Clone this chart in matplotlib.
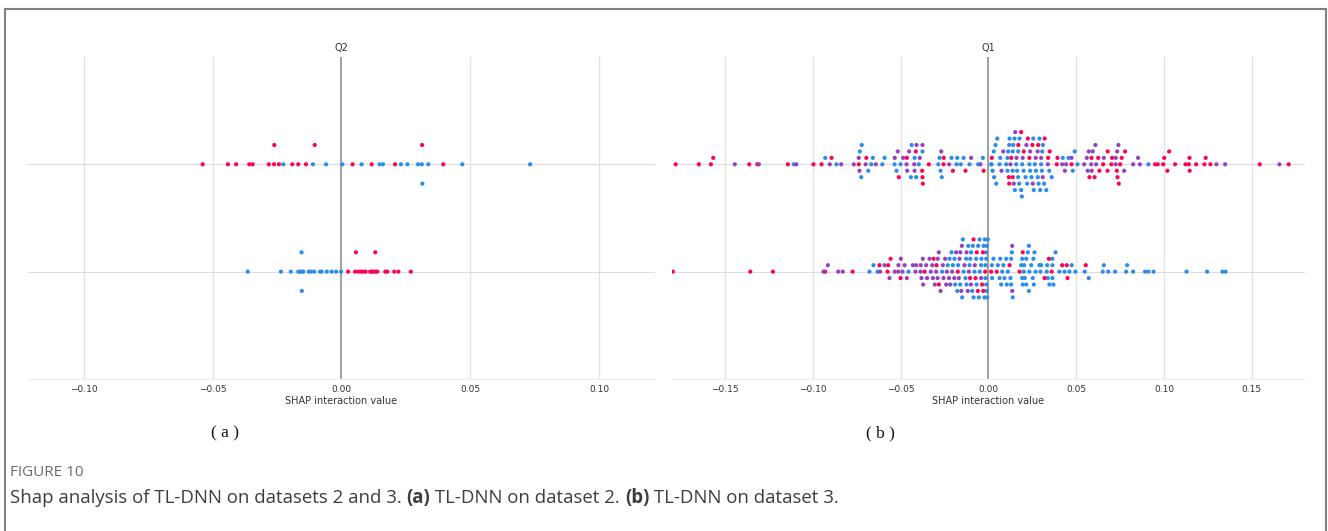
import numpy as np
import matplotlib.pyplot as plt
from matplotlib.lines import Line2D

# ---- data: SHAP interaction values ----
# panel (a): feature Q2, upper row and lower row
q2_top_red = [-0.0539, -0.0441, -0.0409, -0.0358, -0.0345, -0.0282, -0.0262, -0.0261,
              -0.0243, -0.0191, -0.0168, -0.0138, -0.0104, 0.0043, 0.0117, 0.0208,
              0.0313, 0.0395]
q2_top_blue = [-0.0226, -0.0111, -0.0060, 0.0003, 0.0078, 0.0148, 0.0161, 0.0231,
               0.0256, 0.0297, 0.0312, 0.0314, 0.0337, 0.0469, 0.0732]
q2_low_red = [0.0026, 0.0053, 0.0056, 0.0065, 0.0076, 0.0085, 0.0094, 0.0111, 0.0117,
              0.0123, 0.0131, 0.0131, 0.0139, 0.0170, 0.0178, 0.0205, 0.0221, 0.0269]
q2_low_blue = [-0.0364, -0.0235, -0.0197, -0.0168, -0.0161, -0.0155, -0.0155, -0.0154,
               -0.0148, -0.0127, -0.0118, -0.0106, -0.0083, -0.0077, -0.0057, -0.0038,
               -0.0021, -0.0002]

# panel (b): feature Q1
q1_top_red = [-0.1782, -0.1650, -0.1581, -0.1568, -0.1363, -0.1317, -0.1143, -0.0997,
              -0.0951, -0.0894, -0.0739, -0.0696, -0.0511, -0.0465, -0.0414, -0.0376,
              -0.0378, -0.0374, -0.0340, -0.0256, -0.0255, -0.0203, -0.0131, -0.0028,
              0.0019, 0.0116, 0.0118, 0.0130, 0.0138, 0.0170, 0.0186, 0.0201, 0.0224,
              0.0233, 0.0250, 0.0283, 0.0320, 0.0340, 0.0349, 0.0389, 0.0393, 0.0473,
              0.0575, 0.0587, 0.0604, 0.0625, 0.0632, 0.0653, 0.0679, 0.0678, 0.0704,
              0.0700, 0.0731, 0.0742, 0.0735, 0.0750, 0.0759, 0.0778, 0.0949, 0.0964,
              0.0995, 0.1001, 0.1019, 0.1029, 0.1063, 0.1122, 0.1141, 0.1145, 0.1146,
              0.1183, 0.1230, 0.1237, 0.1264, 0.1545, 0.1710]
q1_top_blue = [-0.1109, -0.0930, -0.0866, -0.0733, -0.0725, -0.0722, -0.0685, -0.0668,
               -0.0659, -0.0605, -0.0592, -0.0535, -0.0524, -0.0501, -0.0442, -0.0438,
               -0.0421, -0.0412, -0.0397, -0.0376, -0.0286, -0.0279, -0.0266, -0.0273,
               -0.0211, -0.0182, -0.0178, -0.0158, -0.0142, -0.0108, -0.0059, -0.0032,
               0.0017, 0.0030, 0.0032, 0.0015, 0.0040, 0.0023, 0.0044, 0.0050, 0.0063,
               0.0067, 0.0101, 0.0108, 0.0108, 0.0118, 0.0112, 0.0120, 0.0138, 0.0148,
               0.0150, 0.0158, 0.0169, 0.0141, 0.0137, 0.0169, 0.0163, 0.0175, 0.0177,
               0.0186, 0.0190, 0.0192, 0.0200, 0.0211, 0.0220, 0.0233, 0.0237, 0.0245,
               0.0255, 0.0258, 0.0264, 0.0270, 0.0281, 0.0285, 0.0290, 0.0294, 0.0300,
               0.0304, 0.0306, 0.0310, 0.0317, 0.0329, 0.0346, 0.0360, 0.0423, 0.0456,
               0.0480, 0.0491, 0.0507, 0.0911]
q1_top_purple = [-0.1445, -0.1308, -0.1095, -0.0904, -0.0839, -0.0767, -0.0735, -0.0739,
                 -0.0700, -0.0642, -0.0534, -0.0517, -0.0486, -0.0467, -0.0463, -0.0452,
                 -0.0423, -0.0421, -0.0410, -0.0391, -0.0376, -0.0269, -0.0224, -0.0099,
                 -0.0046, 0.0074, 0.0084, 0.0125, 0.0144, 0.0152, 0.0160, 0.0195, 0.0216,
                 0.0237, 0.0252, 0.0269, 0.0280, 0.0300, 0.0309, 0.0338, 0.0420, 0.0435,
                 0.0442, 0.0473, 0.0545, 0.0565, 0.0571, 0.0613, 0.0594, 0.0560, 0.0585,
                 0.0588, 0.0609, 0.0657, 0.0725, 0.0725, 0.0733, 0.0740, 0.0773, 0.0824,
                 0.0852, 0.0862, 0.1298, 0.1348, 0.1657]

q1_low_red = [-0.1798, -0.1357, -0.1228, -0.0930, -0.0774, -0.0621, -0.0575, -0.0571,
              -0.0558, -0.0501, -0.0364, -0.0313, -0.0296, -0.0283, -0.0175, -0.0105,
              -0.0085, -0.0074, -0.0067, -0.0061, -0.0036, -0.0032, -0.0030, -0.0019,
              0.0015, 0.0047, 0.0120, 0.0177, 0.0195, 0.0319, 0.0344, 0.0360, 0.0420,
              0.0446, 0.0450, 0.0554]
q1_low_blue = [-0.0678, -0.0655, -0.0632, -0.0456, -0.0264, -0.0232, -0.0222, -0.0211,
               -0.0203, -0.0194, -0.0190, -0.0178, -0.0173, -0.0161, -0.0150, -0.0146,
               -0.0142, -0.0131, -0.0127, -0.0125, -0.0115, -0.0108, -0.0104, -0.0099,
               -0.0093, -0.0089, -0.0085, -0.0080, -0.0070, -0.0068, -0.0059, -0.0055,
               -0.0051, -0.0050, -0.0042, -0.0040, -0.0028, -0.0023, -0.0021, -0.0017,
               -0.0017, -0.0013, -0.0013, -0.0013, -0.0010, -0.0010, -0.0007, -0.0004,
               0.0019, 0.0021, 0.0028, 0.0053, 0.0063, 0.0067, 0.0072, 0.0078, 0.0085,
               0.0091, 0.0101, 0.0104, 0.0110, 0.0125, 0.0129, 0.0129, 0.0133, 0.0138,
               0.0186, 0.0192, 0.0192, 0.0195, 0.0201, 0.0203, 0.0207, 0.0215, 0.0215,
               0.0224, 0.0230, 0.0230, 0.0233, 0.0243, 0.0252, 0.0256, 0.0258, 0.0262,
               0.0268, 0.0290, 0.0296, 0.0300, 0.0332, 0.0334, 0.0338, 0.0347, 0.0364,
               0.0364, 0.0364, 0.0370, 0.0382, 0.0404, 0.0433, 0.0461, 0.0474, 0.0495,
               0.0548, 0.0571, 0.0651, 0.0657, 0.0682, 0.0721, 0.0784, 0.0790, 0.0824,
               0.0892, 0.0911, 0.0940, 0.1128, 0.1245, 0.1333, 0.1350]
q1_low_purple = [-0.0940, -0.0915, -0.0856, -0.0830, -0.0617, -0.0592, -0.0564, -0.0534,
                 -0.0514, -0.0513, -0.0499, -0.0490, -0.0478, -0.0465, -0.0431, -0.0416,
                 -0.0412, -0.0387, -0.0386, -0.0382, -0.0374, -0.0372, -0.0355, -0.0350,
                 -0.0336, -0.0329, -0.0320, -0.0317, -0.0306, -0.0298, -0.0290, -0.0289,
                 -0.0283, -0.0273, -0.0260, -0.0256, -0.0247, -0.0241, -0.0237, -0.0225,
                 -0.0218, -0.0207, -0.0195, -0.0184, -0.0169, -0.0165, -0.0160, -0.0155,
                 -0.0152, -0.0137, -0.0125, -0.0118, -0.0112, -0.0100, -0.0078, -0.0042,
                 0.0135, 0.0135]

RED = '#ff0052'
BLUE = '#2a8cee'
PURPLE = '#9440c0'


def swarm_offsets(x, row_height=0.4, nbins=100):
    """shap-style beeswarm: stack points that fall in the same x bin"""
    quant = np.round(nbins * (x - x.min()) / (x.max() - x.min() + 1e-8))
    inds = np.lexsort((x, quant))
    ys = np.zeros(len(x))
    layer, last = 0, -1
    for i in inds:
        if quant[i] != last:
            layer = 0
        ys[i] = np.ceil(layer / 2) * ((layer % 2) * 2 - 1)
        layer += 1
        last = quant[i]
    ys *= 0.9 * (row_height / np.max(ys + 1))
    return ys


def draw_row(ax, pos, groups):
    xs = np.concatenate([np.asarray(v, float) for v, _ in groups])
    cs = sum([[c] * len(v) for v, c in groups], [])
    ys = swarm_offsets(xs)
    ax.axhline(pos, color='#dddddd', lw=0.8, zorder=-1)
    ax.scatter(xs, pos + ys, s=9, c=cs, linewidths=0, zorder=3)


def style_panel(ax, title, lim, ticks):
    ax.set_xlim(-lim, lim)
    ax.set_ylim(-1, 2)
    ax.set_xticks(ticks)
    ax.set_yticks([])
    for t in ticks:
        if abs(t) > 1e-9:
            ax.axvline(t, color='#e3e3e3', lw=1.0, zorder=-2)
    ax.axvline(0, color='#999999', lw=1.3, zorder=-1)
    for s in ['top', 'right', 'left']:
        ax.spines[s].set_visible(False)
    ax.spines['bottom'].set_color('#eeeeee')
    ax.tick_params(axis='x', length=0, pad=4, labelsize=6.5, labelcolor='#333333')
    ax.set_xlabel('SHAP interaction value', fontsize=7, color='#333333', labelpad=2)
    ax.set_title(title, fontsize=7, color='#333333', pad=4)


fig = plt.figure(figsize=(13.28, 5.31), dpi=100)

ax_a = fig.add_axes([0.0211, 0.2863, 0.4721, 0.6064])
draw_row(ax_a, 1, [(q2_top_blue, BLUE), (q2_top_red, RED)])
draw_row(ax_a, 0, [(q2_low_blue, BLUE), (q2_low_red, RED)])
style_panel(ax_a, 'Q2', 0.1217, [-0.10, -0.05, 0.0, 0.05, 0.10])

ax_b = fig.add_axes([0.5060, 0.2863, 0.4767, 0.6064])
draw_row(ax_b, 1, [(q1_top_blue, BLUE), (q1_top_red, RED), (q1_top_purple, PURPLE)])
draw_row(ax_b, 0, [(q1_low_blue, BLUE), (q1_low_red, RED), (q1_low_purple, PURPLE)])
style_panel(ax_b, 'Q1', 0.1803, [-0.15, -0.10, -0.05, 0.0, 0.05, 0.10, 0.15])

# sub-figure labels
fig.text(225 / 1328, 1 - 433 / 531, '( a )', family='Liberation Serif', fontsize=12.5,
         ha='center', va='center', color='#111111')
fig.text(880 / 1328, 1 - 433 / 531, '( b )', family='Liberation Serif', fontsize=12.5,
         ha='center', va='center', color='#111111')

# caption
fig.text(10 / 1328, 1 - 473 / 531, 'FIGURE 10', family='Open Sans', fontsize=11,
         color='#6b6b6b', va='center')
parts = [('Shap analysis of TL-DNN on datasets 2 and 3. ', 'normal'),
         ('(a)', 'bold'),
         (' TL-DNN on dataset 2. ', 'normal'),
         ('(b)', 'bold'),
         (' TL-DNN on dataset 3.', 'normal')]
fig.canvas.draw()
renderer = fig.canvas.get_renderer()
x = 10
for txt, w in parts:
    t = fig.text(x / 1328, 1 - 498 / 531, txt, family='Open Sans', fontsize=13.4,
                 weight=w, color='#3d3d3d', va='center')
    x += t.get_window_extent(renderer).width

# outer frame
frame_kw = dict(color='#808080', lw=1.5, transform=fig.transFigure)
fig.add_artist(Line2D([5 / 1328, 1326 / 1328], [1 - 9 / 531] * 2, **frame_kw))
fig.add_artist(Line2D([5 / 1328] * 2, [0, 1 - 9 / 531], **frame_kw))
fig.add_artist(Line2D([1326 / 1328] * 2, [0, 1 - 9 / 531], **frame_kw))

fig.savefig('out.png', dpi=100)
